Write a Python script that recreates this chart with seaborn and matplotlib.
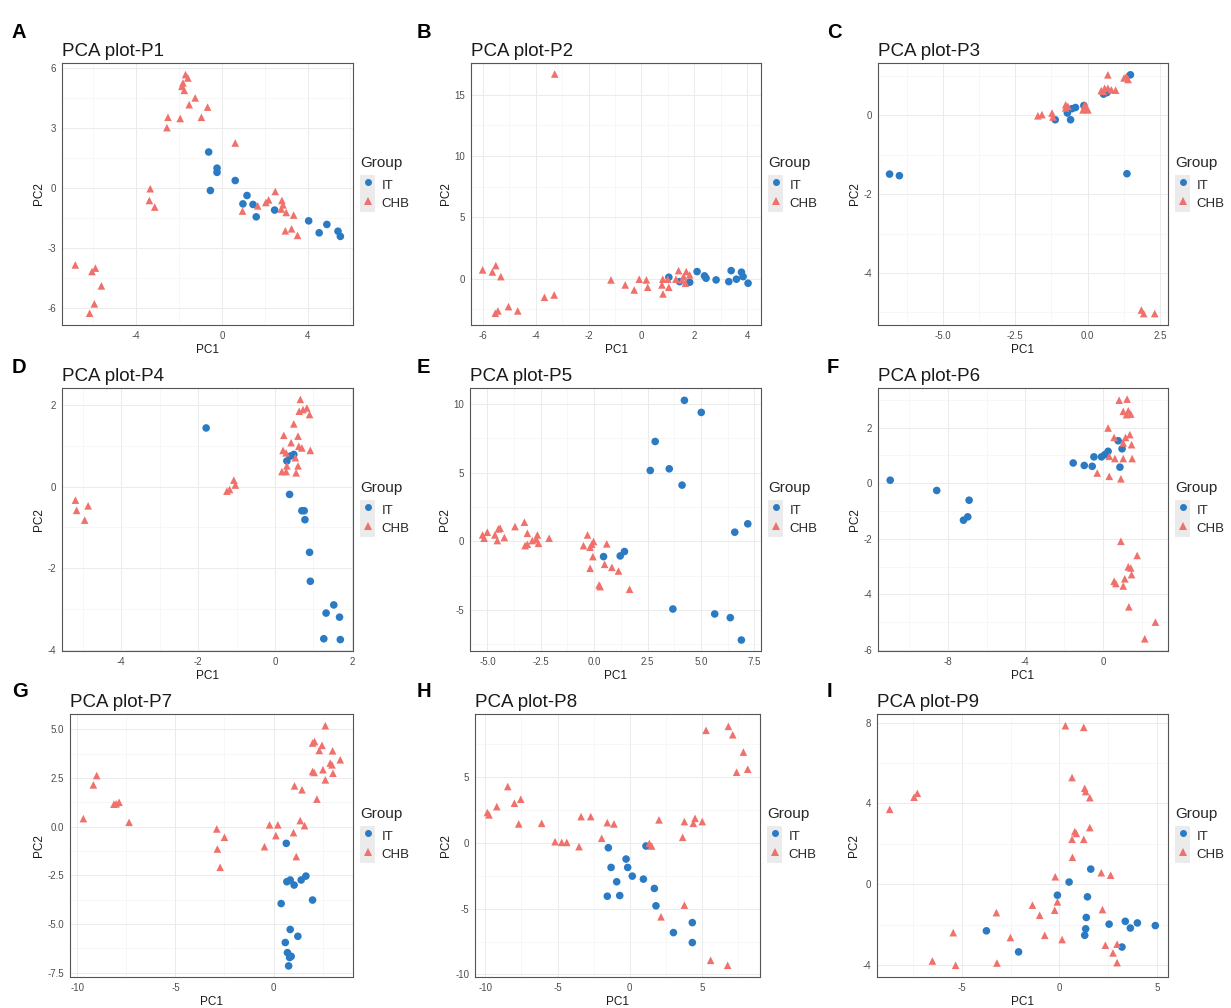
import matplotlib
matplotlib.use("Agg")
import matplotlib.pyplot as plt
import numpy as np
import pandas as pd
import seaborn as sns
from matplotlib.patches import Patch
from matplotlib.lines import Line2D
from matplotlib.legend_handler import HandlerTuple
from matplotlib.ticker import FixedLocator, MultipleLocator

# ---------------- data ----------------
group_labels = ["IT", "CHB"]

p1_it_x = [-0.62, -0.23, -0.23, -0.54, 0.62, 1.17, 0.98, 1.45, 1.60, 2.46, 4.05, 4.54, 4.90, 5.42, 5.53]
p1_it_y = [1.81, 1.00, 0.79, -0.12, 0.38, -0.37, -0.79, -0.82, -1.44, -1.10, -1.64, -2.24, -1.82, -2.16, -2.42]
p1_chb_x = [-1.70, -1.59, -1.82, -1.87, -1.76, -1.25, -1.53, -0.67, -2.52, -1.95, -0.96, -2.57, 0.62, -3.35, -3.39,
            -3.14, 2.49, 2.05, 2.18, 2.80, 2.85, 2.77, 3.00, 1.67, 0.96, 3.35, 2.96, 3.25, 3.53, -6.85,
            -6.07, -5.91, -5.63, -5.96, -6.18]
p1_chb_y = [5.69, 5.52, 5.27, 5.10, 4.90, 4.52, 4.18, 4.06, 3.55, 3.49, 3.55, 3.03, 2.26, -0.03, -0.62,
            -0.95, -0.17, -0.72, -0.59, -0.62, -0.84, -1.05, -1.22, -0.89, -1.15, -1.35, -2.14, -2.04, -2.37, -3.85,
            -4.18, -4.01, -4.90, -5.80, -6.27]

p2_it_x = [1.04, 1.45, 1.83, 2.11, 2.39, 2.45, 2.83, 3.31, 3.40, 3.60, 3.79, 3.85, 4.04]
p2_it_y = [0.11, -0.25, -0.30, 0.57, 0.22, 0.03, -0.11, -0.25, 0.65, -0.05, 0.52, 0.16, -0.38]
p2_chb_x = [-3.28, -6.01, -5.51, -5.64, -5.32, -5.53, -5.43, -5.03, -4.68, -3.67, -3.30, -1.15, -0.61, -0.27, -0.08,
            0.19, 0.24, 0.81, 0.78, 0.82, 1.04, 1.00, 1.41, 1.31, 1.60, 1.70, 1.83, 1.67, 1.54]
p2_chb_y = [16.70, 0.71, 1.06, 0.54, 0.16, -2.83, -2.64, -2.29, -2.64, -1.53, -1.34, -0.11, -0.52, -0.93, -0.05,
            -0.11, -0.71, -0.05, -0.52, -1.25, -0.71, -0.05, 0.65, -0.05, 0.16, 0.57, 0.30, -0.38, -0.11]

p3_it_x = [-6.85, -6.51, -1.12, -0.70, -0.59, -0.54, -0.42, -0.13, 0.55, 0.67, 1.48, 1.36]
p3_it_y = [-1.49, -1.53, -0.11, 0.06, -0.11, 0.17, 0.20, 0.25, 0.54, 0.58, 1.03, -1.48]
p3_chb_x = [-1.72, -1.58, -1.23, -1.20, -0.76, -0.68, -0.76, -0.05, 0.01, -0.16, -0.10, 0.47, 0.59, 0.70, 0.82,
            0.97, 0.55, 0.70, 1.26, 1.34, 1.40, 1.86, 1.94, 2.32]
p3_chb_y = [-0.01, 0.02, 0.06, -0.04, 0.27, 0.23, 0.19, 0.20, 0.14, 0.14, 0.27, 0.63, 0.69, 0.69, 0.65,
            0.64, 0.61, 1.03, 0.95, 0.99, 0.91, -4.94, -5.03, -5.03]

p4_it_x = [-1.79, 0.49, 0.40, 0.31, 0.38, 0.70, 0.76, 0.78, 0.90, 0.92, 1.53, 1.33, 1.68, 1.27, 1.70]
p4_it_y = [1.44, 0.79, 0.75, 0.63, -0.19, -0.59, -0.59, -0.81, -1.61, -2.32, -2.90, -3.10, -3.20, -3.73, -3.75]
p4_chb_x = [0.66, 0.63, 0.73, 0.83, 0.90, 0.49, 0.23, 0.60, 0.42, 0.62, 0.70, 0.92, 0.21, 0.29, 0.53,
            0.31, 0.60, 0.18, 0.29, 0.55, -1.07, -1.03, -1.18, -1.25, -5.19, -4.86, -5.16, -4.95]
p4_chb_y = [2.14, 1.85, 1.89, 1.93, 1.77, 1.54, 1.26, 1.24, 1.08, 0.99, 0.95, 0.89, 0.89, 0.83, 0.71,
            0.51, 0.51, 0.37, 0.37, 0.34, 0.16, 0.04, -0.07, -0.11, -0.33, -0.47, -0.58, -0.82]

p5_it_x = [4.23, 5.02, 2.86, 2.63, 3.52, 4.12, 7.20, 6.59, 0.44, 1.22, 1.42, 3.69, 5.65, 6.38, 6.90]
p5_it_y = [10.27, 9.39, 7.27, 5.16, 5.28, 4.09, 1.27, 0.66, -1.12, -1.07, -0.75, -4.94, -5.30, -5.57, -7.20]
p5_chb_x = [-5.23, -5.16, -5.01, -4.65, -4.49, -4.41, -4.54, -4.21, -3.71, -3.27, -3.13, -3.24, -3.13, -2.90, -2.66,
            -2.61, -2.72, -2.11, -0.31, -0.50, -0.19, -0.03, -0.11, 0.59, -0.06, 0.49, -0.19, 0.83, 1.14, 0.23,
            0.28, 1.66]
p5_chb_y = [0.46, 0.22, 0.66, 0.46, 0.90, 0.95, 0.05, 0.27, 1.07, 1.39, 0.58, -0.32, -0.22, 0.05, 0.46,
            -0.15, 0.15, 0.22, 0.46, -0.32, -0.44, -0.02, -0.22, -0.19, -1.12, -1.68, -1.97, -1.90, -2.17, -3.19,
            -3.31, -3.50]

p6_it_x = [-10.97, -8.57, -6.90, -6.97, -7.19, -1.53, -0.96, -0.55, -0.46, -0.07, 0.10, 0.27, 0.79, 0.99, 0.88]
p6_it_y = [0.11, -0.26, -0.61, -1.21, -1.33, 0.73, 0.64, 0.61, 0.95, 0.95, 1.03, 1.15, 1.53, 1.24, 0.58]
p6_chb_x = [0.84, 1.25, 1.05, 1.31, 1.44, 1.22, 0.27, 0.58, 1.17, 1.39, 1.05, 1.48, 0.33, 0.62, 1.05,
            1.51, -0.29, 0.33, 0.93, 0.93, 1.77, 1.31, 1.44, 1.48, 1.13, 0.58, 0.67, 1.05, 1.34, 2.71, 2.16]
p6_chb_y = [2.99, 3.03, 2.59, 2.61, 2.49, 2.47, 1.99, 1.65, 1.65, 1.75, 1.45, 1.39, 0.97, 0.89, 0.89,
            0.89, 0.37, 0.25, 0.16, -2.09, -2.60, -3.01, -3.05, -3.29, -3.44, -3.53, -3.61, -3.70, -4.45, -5.00, -5.60]

p7_it_x = [0.65, 0.68, 0.85, 1.05, 1.41, 1.65, 0.39, 1.99, 0.85, 1.24, 0.60, 0.71, 0.90, 0.82, 0.77]
p7_it_y = [-0.86, -2.83, -2.74, -3.00, -2.74, -2.54, -3.95, -3.77, -5.28, -5.63, -5.95, -6.47, -6.66, -6.72, -7.15]
p7_chb_x = [-9.69, -9.18, -9.01, -8.13, -7.87, -8.02, -7.36, -2.89, -2.50, -2.86, -2.72, 2.64, 1.99, 2.09, 2.47,
            2.33, 3.01, 3.40, 2.89, 2.98, 1.99, 2.07, 2.52, 3.03, 2.64, 1.07, 1.45, 2.21, -0.20, 0.22,
            1.36, 1.58, 0.12, 1.02, -0.46, 1.16]
p7_chb_y = [0.41, 2.14, 2.62, 1.15, 1.25, 1.17, 0.22, -0.12, -0.55, -1.15, -2.09, 5.18, 4.29, 4.37, 4.17,
            3.91, 3.89, 3.43, 3.26, 3.17, 2.83, 2.78, 2.92, 2.74, 2.40, 2.09, 1.89, 1.41, 0.09, 0.09,
            0.31, 0.05, -0.46, -0.31, -1.03, -1.54]

p8_it_x = [-1.48, 1.13, -0.25, -0.14, -1.29, 0.18, 0.95, -0.90, -1.55, -0.69, 1.71, 1.82, 3.03, 4.34, 4.34]
p8_it_y = [-0.36, -0.23, -1.22, -1.86, -1.86, -2.52, -2.75, -2.95, -4.05, -4.00, -3.46, -4.78, -6.82, -6.06, -7.58]
p8_chb_x = [-9.86, -9.75, -9.21, -8.45, -7.99, -7.55, -7.69, -6.10, -5.17, -4.71, -4.36, -3.51, -3.37, -2.70, -1.94,
            -1.55, -1.09, 1.36, 1.52, 2.03, 2.17, 3.67, 3.79, 4.41, 4.53, 5.03, 3.79, 5.29, 6.84, 7.14,
            7.88, 7.41, 8.18, 5.61, 6.79]
p8_chb_y = [2.32, 2.14, 2.77, 4.30, 3.03, 3.33, 1.45, 1.50, 0.10, 0.05, 0.05, -0.28, 2.01, 2.01, 0.36,
            1.55, 1.45, -0.03, -0.23, 1.76, -5.62, 0.43, 1.63, 1.50, 1.88, 1.63, -4.73, 8.58, 8.88, 8.24,
            6.92, 5.39, 5.62, -8.93, -9.31]

p9_it_x = [0.50, 1.61, -0.10, 1.44, 1.38, 1.35, 1.30, 2.55, 3.38, 3.64, 4.00, 4.92, 3.21, -3.74, -2.09]
p9_it_y = [0.12, 0.76, -0.53, -0.61, -1.63, -2.19, -2.51, -1.96, -1.82, -2.15, -1.90, -2.03, -3.09, -2.29, -3.33]
p9_chb_x = [-8.70, -7.45, -7.28, 0.31, 1.25, 0.65, 1.30, 1.35, 1.56, 0.79, 0.87, 0.65, 1.25, 1.56, 0.67,
            -0.21, 2.15, 2.63, -0.10, -0.24, -1.38, -1.01, -3.23, 2.21, -5.44, -2.51, -0.75, 0.14, 2.36, 2.96,
            2.75, 2.96, -6.51, -5.32, -3.20]
p9_chb_y = [3.71, 4.31, 4.50, 7.84, 7.76, 5.28, 4.75, 4.59, 4.29, 2.61, 2.52, 2.23, 2.23, 2.81, 1.34,
            0.38, 0.58, 0.46, -0.86, -1.27, -1.02, -1.52, -1.39, -1.24, -2.38, -2.62, -2.51, -2.72, -3.00, -2.95,
            -3.38, -3.86, -3.78, -3.99, -3.88]

panel_titles = ["PCA plot-P1", "PCA plot-P2", "PCA plot-P3", "PCA plot-P4", "PCA plot-P5",
                "PCA plot-P6", "PCA plot-P7", "PCA plot-P8", "PCA plot-P9"]
panel_letters = ["A", "B", "C", "D", "E", "F", "G", "H", "I"]

x_tick_labels = [["-4", "0", "4"],
                 ["-6", "-4", "-2", "0", "2", "4"],
                 ["-5.0", "-2.5", "0.0", "2.5"],
                 ["-4", "-2", "0", "2"],
                 ["-5.0", "-2.5", "0.0", "2.5", "5.0", "7.5"],
                 ["-8", "-4", "0"],
                 ["-10", "-5", "0"],
                 ["-10", "-5", "0", "5"],
                 ["-5", "0", "5"]]
y_tick_labels = [["-6", "-3", "0", "3", "6"],
                 ["0", "5", "10", "15"],
                 ["-4", "-2", "0"],
                 ["-4", "-2", "0", "2"],
                 ["-5", "0", "5", "10"],
                 ["-6", "-4", "-2", "0", "2"],
                 ["-7.5", "-5.0", "-2.5", "0.0", "2.5", "5.0"],
                 ["-10", "-5", "0", "5"],
                 ["-4", "0", "4", "8"]]

panel_data = [
    (p1_it_x, p1_it_y, p1_chb_x, p1_chb_y),
    (p2_it_x, p2_it_y, p2_chb_x, p2_chb_y),
    (p3_it_x, p3_it_y, p3_chb_x, p3_chb_y),
    (p4_it_x, p4_it_y, p4_chb_x, p4_chb_y),
    (p5_it_x, p5_it_y, p5_chb_x, p5_chb_y),
    (p6_it_x, p6_it_y, p6_chb_x, p6_chb_y),
    (p7_it_x, p7_it_y, p7_chb_x, p7_chb_y),
    (p8_it_x, p8_it_y, p8_chb_x, p8_chb_y),
    (p9_it_x, p9_it_y, p9_chb_x, p9_chb_y),
]

# ---------------- layout (pixels) ----------------
W, H = 1231, 1008
axes_px = [(62, 63, 353, 325), (471, 63, 761, 325), (878, 63, 1168, 325),
           (62, 388, 353, 651), (470, 388, 761, 651), (878, 388, 1168, 651),
           (70, 714, 353, 977), (475, 714, 760, 977), (877, 714, 1168, 977)]
x_lims = [(-7.47, 6.12), (-6.45, 4.53), (-7.25, 2.78), (-5.54, 2.03), (-5.82, 7.82),
          (-11.6, 3.36), (-10.37, 4.05), (-10.72, 9.03), (-9.35, 5.57)]
y_lims = [(-6.86, 6.27), (-3.79, 17.6), (-5.32, 1.33), (-4.03, 2.42), (-8.0, 11.17),
          (-6.04, 3.43), (-7.72, 5.78), (-10.2, 9.82), (-4.57, 8.42)]
letter_px = [(12, 38), (417, 38), (827, 38), (12, 373), (417, 373), (827, 373),
             (12, 697), (417, 697), (827, 697)]

IT_COLOR = "#2A7AC4"
CHB_COLOR = "#F0716B"
palette = {"IT": IT_COLOR, "CHB": CHB_COLOR}
markers = {"IT": "o", "CHB": "^"}

sns.set_style("white")
plt.rcParams["font.family"] = ["Liberation Sans", "DejaVu Sans"]

fig = plt.figure(figsize=(W / 100, H / 100), dpi=100)
fig.patch.set_facecolor("white")

for i in range(9):
    itx, ity, chx, chy = panel_data[i]
    df = pd.DataFrame({
        "PC1": list(itx) + list(chx),
        "PC2": list(ity) + list(chy),
        "Group": ["IT"] * len(itx) + ["CHB"] * len(chx),
    })
    L, T, R, B = axes_px[i]
    ax = fig.add_axes([L / W, 1 - B / H, (R - L) / W, (B - T) / H])
    ax.set_facecolor("white")

    xt = [float(s) for s in x_tick_labels[i]]
    yt = [float(s) for s in y_tick_labels[i]]
    ax.xaxis.set_major_locator(FixedLocator(xt))
    ax.yaxis.set_major_locator(FixedLocator(yt))
    ax.xaxis.set_minor_locator(MultipleLocator((xt[1] - xt[0]) / 2))
    ax.yaxis.set_minor_locator(MultipleLocator((yt[1] - yt[0]) / 2))
    ax.grid(True, which="major", color="#EBEBEB", linewidth=0.7, zorder=0)
    ax.grid(True, which="minor", color="#F2F2F2", linewidth=0.4, zorder=0)
    ax.set_axisbelow(True)

    sns.scatterplot(data=df, x="PC1", y="PC2", hue="Group", style="Group",
                    hue_order=group_labels, style_order=group_labels,
                    palette=palette, markers=markers, s=30, linewidth=0,
                    legend=False, ax=ax, zorder=3)

    ax.set_xlim(*x_lims[i])
    ax.set_ylim(*y_lims[i])
    ax.set_xticklabels(x_tick_labels[i])
    ax.set_yticklabels(y_tick_labels[i])
    ax.tick_params(which="major", length=2.7, width=0.6, color="#333333",
                   labelsize=7, labelcolor="#4D4D4D", pad=1.5)
    ax.tick_params(which="minor", length=0)
    for sp in ax.spines.values():
        sp.set_color("#555555")
        sp.set_linewidth(0.8)
    ax.set_xlabel("PC1", fontsize=8.5, labelpad=2, color="#1A1A1A")
    ax.set_ylabel("PC2", fontsize=8.5, labelpad=2, color="#1A1A1A")
    ax.set_title(panel_titles[i], loc="left", fontsize=13.5, pad=5, color="#1A1A1A")

    # legend
    bg = "#EBEBEB"
    h_it = (Patch(facecolor=bg, edgecolor="none"),
            Line2D([], [], marker="o", linestyle="none", color=IT_COLOR,
                   markersize=5.0, markeredgewidth=0))
    h_chb = (Patch(facecolor=bg, edgecolor="none"),
             Line2D([], [], marker="^", linestyle="none", color=CHB_COLOR,
                    markersize=5.6, markeredgewidth=0))
    leg = ax.legend([h_it, h_chb], group_labels,
                    handler_map={tuple: HandlerTuple(ndivide=1, pad=0)},
                    title="Group", title_fontsize=11, fontsize=9.5,
                    loc="center left",
                    bbox_to_anchor=((R + 7) / W, 1 - (T + 121) / H),
                    bbox_transform=fig.transFigure, frameon=False,
                    borderpad=0, borderaxespad=0, labelspacing=0,
                    handlelength=1.15, handleheight=1.8, handletextpad=0.5,
                    alignment="left")
    leg._legend_box.sep = 4

    lx, ly = letter_px[i]
    fig.text(lx / W, 1 - ly / H, panel_letters[i], fontsize=14.5,
             fontweight="bold", va="baseline", ha="left", color="black")

fig.savefig("out.png", dpi=100, facecolor="white")
